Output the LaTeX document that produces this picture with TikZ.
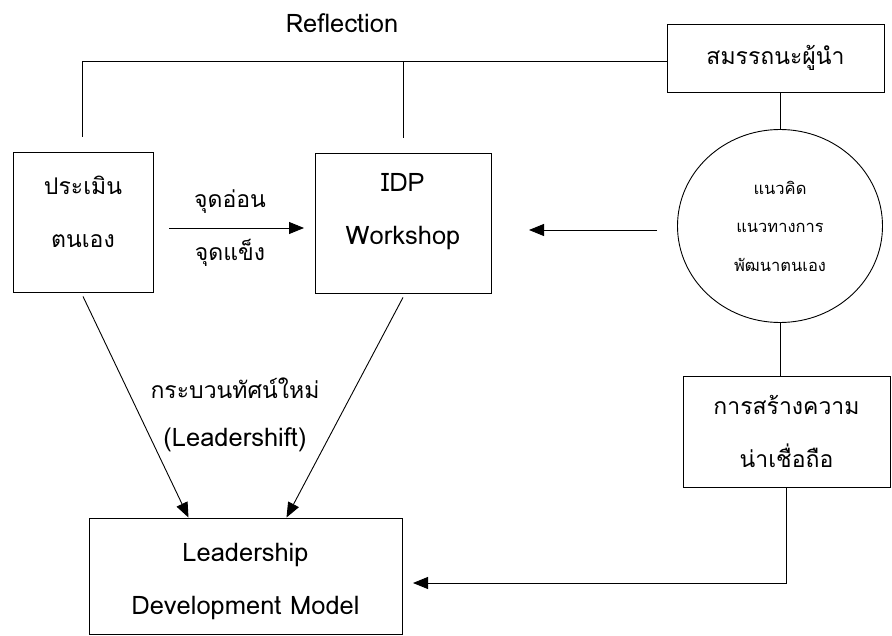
\documentclass[tikz,border=0pt]{standalone}
\usepackage{fontspec}
\setmainfont[Script=Thai]{Loma}
\usetikzlibrary{arrows.meta,shapes.geometric}
\begin{document}
\begin{tikzpicture}[x=1pt,y=-1pt,line width=0.9pt,
  boxnode/.style={draw,rectangle,inner sep=0pt,align=center,font=\fontsize{23}{53}\selectfont},
  frame/.style={draw,rectangle,inner sep=0pt},
  txt/.style={inner sep=0pt,align=center,font=\fontsize{23}{53}\selectfont},
  lattxt/.style={inner sep=0pt,align=center,font=\fontsize{25.5}{53}\selectfont},
  circtxt/.style={draw,ellipse,inner sep=0pt,align=center,font=\fontsize{16.5}{38.5}\selectfont},
  arr/.style={-{Triangle[length=15pt,width=12pt]}}]
\useasboundingbox (0,0) rectangle (892,636);
% boxes
\node[boxnode,minimum width=217pt,minimum height=68pt] (s) at (775.5,58) {สมรรถนะผู้นำ};
\node[frame,minimum width=140pt,minimum height=140pt] (p) at (83,222) {};
\node[txt] (ptext) at (83,211.5) {ประเมิน\\ตนเอง};
\node[frame,minimum width=176pt,minimum height=140pt] (i) at (403,223) {};
\node[lattxt] (itext) at (403,211.5) {IDP\\Workshop};
\node[circtxt,minimum width=205pt,minimum height=193pt] (c) at (780,226) {แนวคิด\\แนวทางการ\\พัฒนาตนเอง};
\node[boxnode,minimum width=207pt,minimum height=111pt] (b) at (786.5,431.5) {การสร้างความ\\น่าเชื่อถือ};
\node[frame,minimum width=313pt,minimum height=116pt] (l) at (245.5,576) {};
\node[lattxt] (ltext) at (245.5,581) {Leadership\\Development Model};
% labels
\node[lattxt] (refl) at (342,23) {Reflection};
\node[txt] (weak) at (230,202) {จุดอ่อน};
\node[txt] (strong) at (230,253) {จุดแข็ง};
\node[txt] (para) at (235,388) {กระบวนทัศน์ใหม่};
\node[lattxt] (lshift) at (235,440) {(Leadershift)};
% connector points
\coordinate (t1) at (82,137);
\coordinate (j1) at (82,61);
\coordinate (t2) at (403,138);
\coordinate (a1s) at (169,228);
\coordinate (a1e) at (304,228);
\coordinate (a2s) at (657,230);
\coordinate (a2e) at (529,230);
\coordinate (e3) at (413,583);
% connectors
\draw (t1) -- (j1) -- (j1 -| s.west);
\draw (t2) -- (t2 |- j1);
\draw (c.north |- s.south) -- (c.north);
\draw (c.south) -- (c.south |- b.north);
\draw[arr] (a1s) -- (a1e);
\draw[arr] (a2s) -- (a2e);
\draw[arr] ([yshift=-4pt]p.south) -- ([xshift=-57pt]l.north);
\draw[arr] ([yshift=-4pt]i.south) -- ([xshift=41pt]l.north);
\draw[arr] (b.south) |- (e3);
\end{tikzpicture}
\end{document}
